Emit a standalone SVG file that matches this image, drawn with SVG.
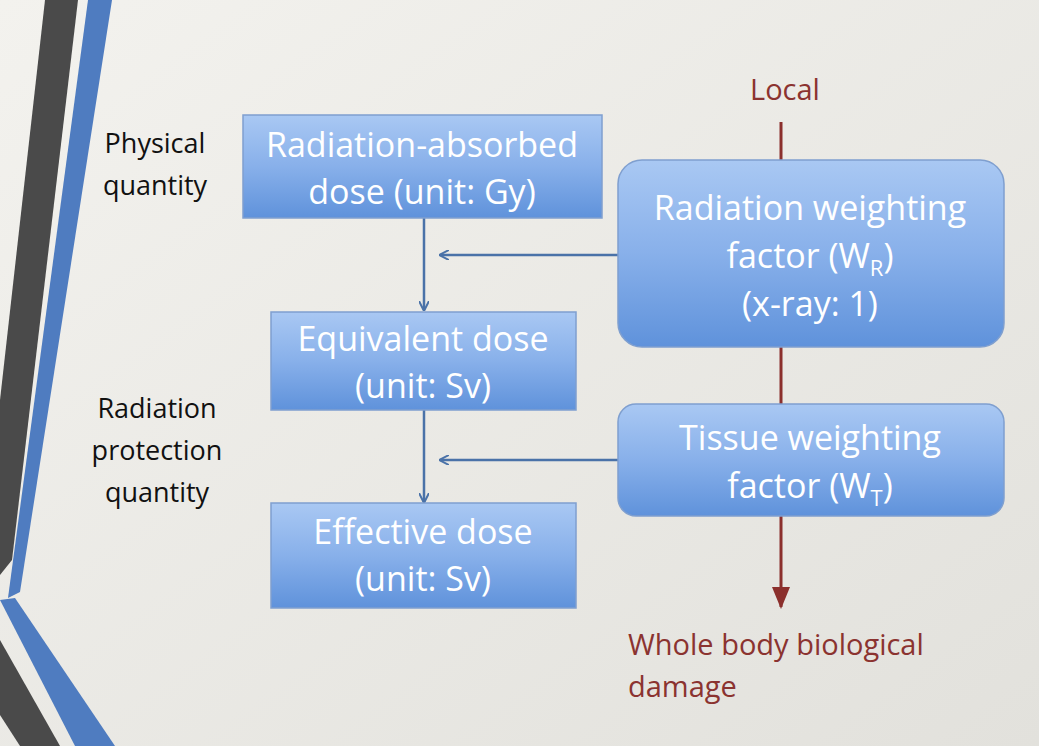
<svg xmlns="http://www.w3.org/2000/svg" width="1039" height="746" viewBox="0 0 1039 746">
<defs>
<linearGradient id="bg" x1="0" y1="0" x2="1" y2="1"><stop offset="0" stop-color="#f3f2ee"/><stop offset="1" stop-color="#e2e1dc"/></linearGradient>
<linearGradient id="bx" x1="0" y1="0" x2="0" y2="1"><stop offset="0" stop-color="#a9c8f3"/><stop offset="0.5" stop-color="#88b0ea"/><stop offset="1" stop-color="#5f92db"/></linearGradient>
<marker id="ab" markerWidth="10" markerHeight="10" refX="9" refY="5" orient="auto" markerUnits="userSpaceOnUse"><path d="M0,0 L10,5 L0,10" fill="none" stroke="#4a72a8" stroke-width="2"/></marker>
<marker id="ar" markerWidth="22" markerHeight="18" refX="20" refY="9" orient="auto" markerUnits="userSpaceOnUse"><path d="M0,0 L22,9 L0,18 Z" fill="#8b2f2c"/></marker>
<style>
.box{fill:url(#bx);stroke:#7f9fcf;stroke-width:1.5}
.bt{font-family:"Open Sans",Lato,sans-serif;font-size:34px;fill:#fff;text-anchor:middle}
.lt{font-family:"Open Sans",Lato,sans-serif;font-size:27px;fill:#111;text-anchor:middle}
.rt{font-family:"Open Sans",Lato,sans-serif;font-size:29px;fill:#8b3330}
.bl{stroke:#4a72a8;stroke-width:2.5;fill:none}
.rd{stroke:#8b2f2c;stroke-width:3;fill:none}
</style>
</defs>
<rect width="1039" height="746" fill="url(#bg)"/>
<polygon points="45,0 78,0 12,560 0,575 0,400" fill="#4a4a4a"/>
<polygon points="88,0 112,0 20,592 8,598" fill="#4f7cc0"/>
<polygon points="0,600 15,598 115,746 75,746" fill="#4f7cc0"/>
<polygon points="0,640 60,746 20,746 0,715" fill="#4a4a4a"/>
<g id="connectors">
<line class="bl" x1="424" y1="218" x2="424" y2="310" marker-end="url(#ab)"/>
<line class="bl" x1="424" y1="410" x2="424" y2="502" marker-end="url(#ab)"/>
<line class="bl" x1="618" y1="255" x2="440" y2="255" marker-end="url(#ab)"/>
<line class="bl" x1="618" y1="460" x2="440" y2="460" marker-end="url(#ab)"/>
<line class="rd" x1="781" y1="122" x2="781" y2="160"/>
<line class="rd" x1="781" y1="347" x2="781" y2="404"/>
<line class="rd" x1="781" y1="516" x2="781" y2="607" marker-end="url(#ar)"/>
</g>
<g id="n1"><rect class="box" x="243" y="115" width="359" height="103"/><text class="bt" x="422" y="157">Radiation-absorbed</text><text class="bt" x="422" y="204">dose (unit: Gy)</text></g>
<g id="n2"><rect class="box" x="271" y="312" width="305" height="98"/><text class="bt" x="423" y="351">Equivalent dose</text><text class="bt" x="423" y="398">(unit: Sv)</text></g>
<g id="n3"><rect class="box" x="271" y="503" width="305" height="105"/><text class="bt" x="423" y="544">Effective dose</text><text class="bt" x="423" y="591">(unit: Sv)</text></g>
<g id="n4"><rect class="box" x="618" y="160" width="386" height="187" rx="24"/><text class="bt" x="810" y="220">Radiation weighting</text><text class="bt" x="810" y="268">factor (W<tspan font-size="22" dy="8">R</tspan><tspan dy="-8">)</tspan></text><text class="bt" x="810" y="316">(x-ray: 1)</text></g>
<g id="n5"><rect class="box" x="618" y="404" width="386" height="112" rx="18"/><text class="bt" x="810" y="450">Tissue weighting</text><text class="bt" x="810" y="498">factor (W<tspan font-size="22" dy="8">T</tspan><tspan dy="-8">)</tspan></text></g>
<g id="labels">
<text class="lt" x="155" y="153">Physical</text><text class="lt" x="155" y="195">quantity</text>
<text class="lt" x="157" y="418">Radiation</text><text class="lt" x="157" y="460">protection</text><text class="lt" x="157" y="502">quantity</text>
<text class="rt" x="785" y="100" text-anchor="middle">Local</text>
<text class="rt" x="628" y="655">Whole body biological</text><text class="rt" x="628" y="697">damage</text>
</g>
</svg>
